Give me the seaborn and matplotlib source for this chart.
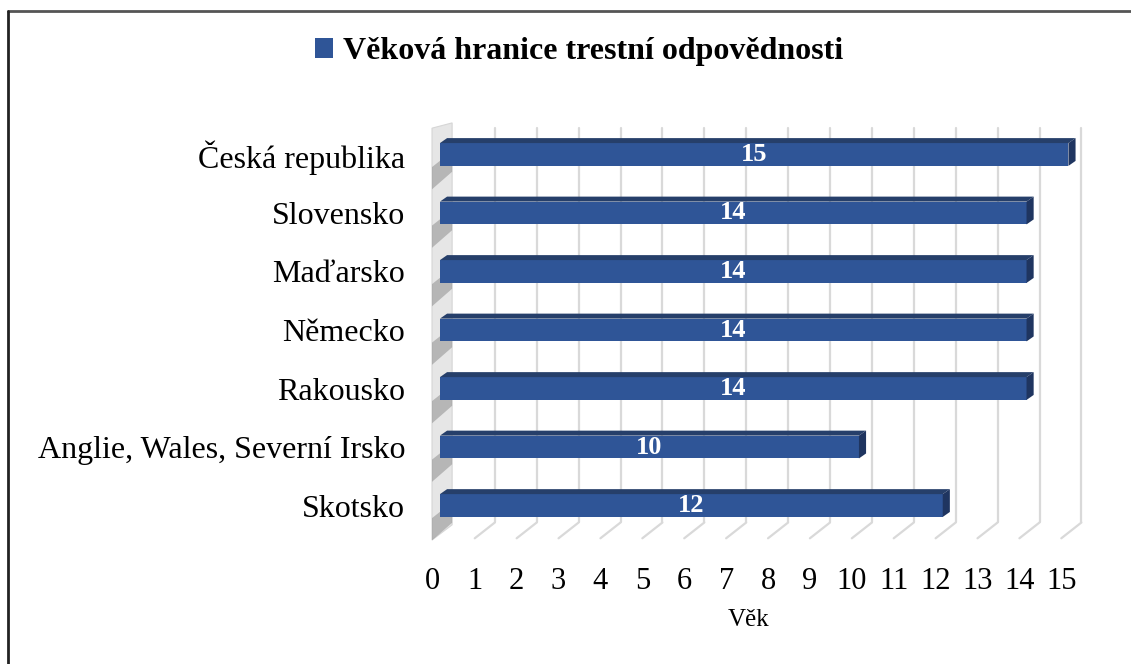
import matplotlib
matplotlib.use("Agg")
import matplotlib.pyplot as plt
from matplotlib.patches import Polygon, Rectangle
import seaborn as sns

countries = ["Česká republika", "Slovensko", "Maďarsko", "Německo",
             "Rakousko", "Anglie, Wales, Severní Irsko", "Skotsko"]
ages = [15, 14, 14, 14, 14, 10, 12]
ticks = list(range(16))
series_name = "Věková hranice trestní odpovědnosti"

front = "#2F5597"
top_col = "#263F6A"
end_col = "#1F3560"
grid_col = "#d9d9d9"

sns.set_style("white")
plt.rcParams["font.family"] = ["Liberation Serif", "DejaVu Serif"]
plt.rcParams["text.color"] = "black"
plt.rcParams["xtick.color"] = "black"
plt.rcParams["ytick.color"] = "black"
plt.rcParams["axes.labelcolor"] = "black"

fig = plt.figure(figsize=(11.31, 6.64), dpi=100)
ax = fig.add_axes([0.3816, 0.1858, 0.5816, 0.630])

sns.barplot(x=ages, y=countries, orient="h", color=front, saturation=1,
            width=0.39, label=series_name, ax=ax, zorder=3, linewidth=0)

# 3D look: depth offsets (data units)
bx, by = 0.31, 0.29   # back wall offset
fx = -0.17            # floor front offset
dx, dy = 0.17, 0.085  # bar depth

bars = [p for p in ax.patches if isinstance(p, Rectangle)]

# gridlines on back wall + floor
for i in ticks[1:]:
    ax.plot([i + bx, i + bx], [-0.45, 6 + by], color=grid_col, lw=1.6, zorder=1)
    ax.plot([i + bx, i + fx], [6 + by, 6.56], color=grid_col, lw=1.6, zorder=1)

# left wall
ax.add_patch(Polygon([(-0.19, 6.59), (-0.19, -0.45), (0.29, -0.54), (0.29, 6.33)],
                     closed=True, facecolor="#e6e6e6", edgecolor="#d6d6d6", lw=0.8,
                     zorder=2, clip_on=False))
for p in bars:
    y, h = p.get_y(), p.get_height()
    ax.add_patch(Polygon([(-0.19, y + h + 0.02), (-0.19, y + h + 0.40),
                          (0.29, y + h + 0.10), (0.29, y + h - 0.25)],
                         closed=True, facecolor="#6f6f6f", alpha=0.4, lw=0,
                         zorder=2, clip_on=False))

# bar top and end faces
for p in bars:
    x, y, w, h = p.get_x(), p.get_y(), p.get_width(), p.get_height()
    ax.add_patch(Polygon([(x, y), (x + w, y), (x + w + dx, y - dy), (x + dx, y - dy)],
                         closed=True, facecolor=top_col, lw=0, zorder=4, clip_on=False))
    ax.add_patch(Polygon([(x + w, y), (x + w + dx, y - dy), (x + w + dx, y + h - dy), (x + w, y + h)],
                         closed=True, facecolor=end_col, lw=0, zorder=4, clip_on=False))

ax.bar_label(ax.containers[0], label_type="center", color="white",
             fontweight="bold", fontsize=19, zorder=5)

ax.set_xticks([t + fx for t in ticks], [str(t) for t in ticks])
ax.tick_params(axis="x", length=0, pad=19, labelsize=22)
ax.tick_params(axis="y", length=0, pad=19, labelsize=23)
for s in ax.spines.values():
    s.set_visible(False)

ax.set_xlim(-0.2, 15.5)
ax.set_ylim(6.6, -0.55)

ax.set_xlabel("Věk", fontsize=18)
ax.xaxis.set_label_coords(0.4825, -0.19)
ax.xaxis.label.set_va("center")
ax.set_ylabel("")

handles, labels = ax.get_legend_handles_labels()
if ax.get_legend() is not None:
    ax.get_legend().remove()
fig.legend(handles[:1], labels[:1], loc="center", bbox_to_anchor=(0.512, 0.922),
           frameon=False, handlelength=0.55, handleheight=0.55, handletextpad=0.3,
           prop={"weight": "bold", "size": 23})

# outer frame (top and left)
fig.add_artist(plt.Line2D([8 / 1131, 1], [1 - 11 / 664, 1 - 11 / 664],
                          transform=fig.transFigure, color="#555555", lw=2))
fig.add_artist(plt.Line2D([8 / 1131, 8 / 1131], [0, 1 - 11 / 664],
                          transform=fig.transFigure, color="#222222", lw=2))

fig.savefig("out.png", dpi=100)
